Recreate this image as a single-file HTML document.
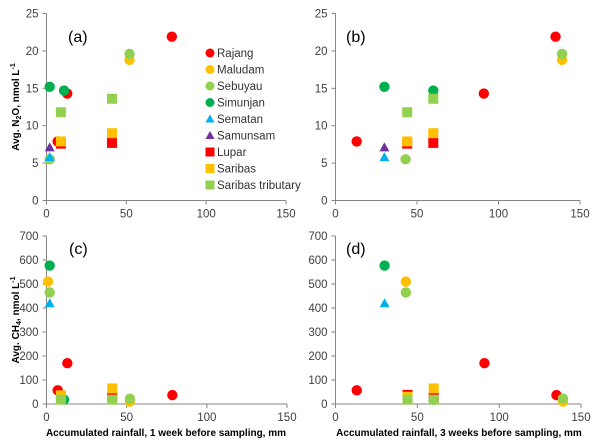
<!DOCTYPE html>
<html><head><meta charset="utf-8"><style>
body{margin:0;background:#fff;}
svg{display:block;font-family:"Liberation Sans",sans-serif;}
</style></head><body>
<svg id="chart" width="600" height="447" viewBox="0 0 600 447"></svg>
<script>
const series = ["Rajang","Maludam","Sebuyau","Simunjan","Sematan","Samunsam","Lupar","Saribas","Saribas tributary"];
const colors = ["#ff0000","#ffc000","#92d050","#00b050","#00b0f0","#7030a0","#ff0000","#ffc000","#92d050"];
const shapes = ["c","c","c","c","t","t","s","s","s"];
const xTicks = [0,50,100,150];
const n2oTicks = [0,5,10,15,20,25];
const ch4Ticks = [0,100,200,300,400,500,600,700];
// panel (a): x = rainfall 1 week, y = N2O
const aX = [[78.5,13,7],[52],[52,2],[2,11],[2],[2],[9,41],[9,41],[9,41]];
const aY = [[21.9,14.3,7.9],[18.8],[19.6,5.5],[15.2,14.7],[5.8],[7.1],[7.6,7.7],[7.9,9.0],[11.8,13.6]];
// panel (b): x = rainfall 3 weeks, y = N2O
const bX = [[135,91,13],[139],[139,43],[30,60],[30],[30],[44,60],[44,60],[44,60]];
const bY = [[21.9,14.3,7.9],[18.8],[19.6,5.5],[15.2,14.7],[5.8],[7.1],[7.6,7.7],[7.9,9.0],[11.8,13.6]];
// panel (c): x = rainfall 1 week, y = CH4
const cX = [[78.5,13,7],[52,1],[52,2],[2,11],[2],[41],[9,41],[9,41],[9,41]];
const cY = [[37,170,57],[10,510],[22,465],[577,18],[420],[32],[32,30],[36,65],[18,18]];
// panel (d): x = rainfall 3 weeks, y = CH4
const dX = [[135,91,13],[139,43],[139,43],[30,60],[30],[60],[44,60],[44,60],[44,60]];
const dY = [[37,170,57],[10,510],[22,465],[577,18],[420],[32],[38,30],[30,65],[18,18]];

const svg = document.getElementById('chart');
const NS = "http://www.w3.org/2000/svg";
function el(tag, attrs, parent){const e=document.createElementNS(NS,tag);for(const k in attrs)e.setAttribute(k,attrs[k]);(parent||svg).appendChild(e);return e;}

const panels = [
 {id:"a",x0:46.5,x1:286,y0:200.5,y1:13.5,ymax:25,yt:n2oTicks,X:aX,Y:aY,lx:68,ly:42},
 {id:"b",x0:335.5,x1:580,y0:200.5,y1:13.5,ymax:25,yt:n2oTicks,X:bX,Y:bY,lx:346,ly:42},
 {id:"c",x0:46.5,x1:287,y0:404,y1:236,ymax:700,yt:ch4Ticks,X:cX,Y:cY,lx:69,ly:254},
 {id:"d",x0:335.5,x1:581,y0:404,y1:236,ymax:700,yt:ch4Ticks,X:dX,Y:dY,lx:346,ly:254}
];
panels.forEach(p=>{
  const g = el('g',{});
  
  
  const sx = v=>p.x0+(p.x1-p.x0)*v/150;
  const sy = v=>p.y0-(p.y0-p.y1)*v/p.ymax;
  const ax = el('line',{x1:p.x0,y1:p.y0,x2:p.x1,y2:p.y0,stroke:"#868686","stroke-width":1},g);
  
  
  const ay = el('line',{x1:p.x0,y1:p.y0,x2:p.x0,y2:p.y1,stroke:"#868686","stroke-width":1},g);
  
  
  xTicks.forEach(t=>{
    el('line',{x1:sx(t),y1:p.y0,x2:sx(t),y2:p.y0+4,stroke:"#868686"},g);
    const tx = el('text',{x:sx(t),y:p.y0+17,"text-anchor":"middle","font-size":11.5,fill:"#404040"},g);
    tx.textContent=t;
    
    
  });
  p.yt.forEach(t=>{
    el('line',{x1:p.x0-4,y1:sy(t),x2:p.x0,y2:sy(t),stroke:"#868686"},g);
    const tx = el('text',{x:p.x0-8,y:sy(t)+4,"text-anchor":"end","font-size":11.5,fill:"#404040"},g);
    tx.textContent=t;
    
    
  });
  const lab = el('text',{x:p.lx,y:p.ly,"font-size":16,fill:"#000"},g);
  lab.textContent="("+p.id+")";
  
  
  series.forEach((s,i)=>{
    p.X[i].forEach((xv,j)=>{
      const cx=sx(xv), cy=sy(p.Y[i][j]);
      let m;
      if(shapes[i]==="c") m=el('circle',{cx:cx,cy:cy,r:5.2,fill:colors[i]},g);
      else if(shapes[i]==="s") m=el('rect',{x:cx-5,y:cy-5,width:10,height:10,fill:colors[i]},g);
      else m=el('polygon',{points:`${cx},${cy-5} ${cx+5},${cy+4} ${cx-5},${cy+4}`,fill:colors[i]},g);
      
      
    });
  });
});
// legend
const lg = el('g',{});


series.forEach((s,i)=>{
  const y = 53+i*16.5, x=210;
  let m;
  if(shapes[i]==="c") m=el('circle',{cx:x,cy:y,r:4.5,fill:colors[i]},lg);
  else if(shapes[i]==="s") m=el('rect',{x:x-4.5,y:y-4.5,width:9,height:9,fill:colors[i]},lg);
  else m=el('polygon',{points:`${x},${y-4.5} ${x+4.5},${y+3.5} ${x-4.5},${y+3.5}`,fill:colors[i]},lg);
  
  
  const t = el('text',{x:217,y:y+4,"font-size":11.5,fill:"#333"},lg);
  t.textContent=s;
  
  
});
</script>
<svg style="position:absolute;left:0;top:0" width="600" height="447">
<text transform="translate(19,107) rotate(-90)" text-anchor="middle" font-size="10" font-weight="bold" font-family="Liberation Sans, sans-serif">Avg. N<tspan font-size="7" dy="2">2</tspan><tspan dy="-2">O, nmol L</tspan><tspan font-size="7" dy="-4">-1</tspan></text>
<text transform="translate(19,320) rotate(-90)" text-anchor="middle" font-size="10" font-weight="bold" font-family="Liberation Sans, sans-serif">Avg. CH<tspan font-size="7" dy="2">4</tspan><tspan dy="-2">, nmol L</tspan><tspan font-size="7" dy="-4">-1</tspan></text>
<text x="166" y="436" text-anchor="middle" font-size="10" font-weight="bold" font-family="Liberation Sans, sans-serif">Accumulated rainfall, 1 week before sampling, mm</text>
<text x="459" y="436" text-anchor="middle" font-size="10" font-weight="bold" font-family="Liberation Sans, sans-serif">Accumulated rainfall, 3 weeks before sampling, mm</text>
</svg>
</body></html>
